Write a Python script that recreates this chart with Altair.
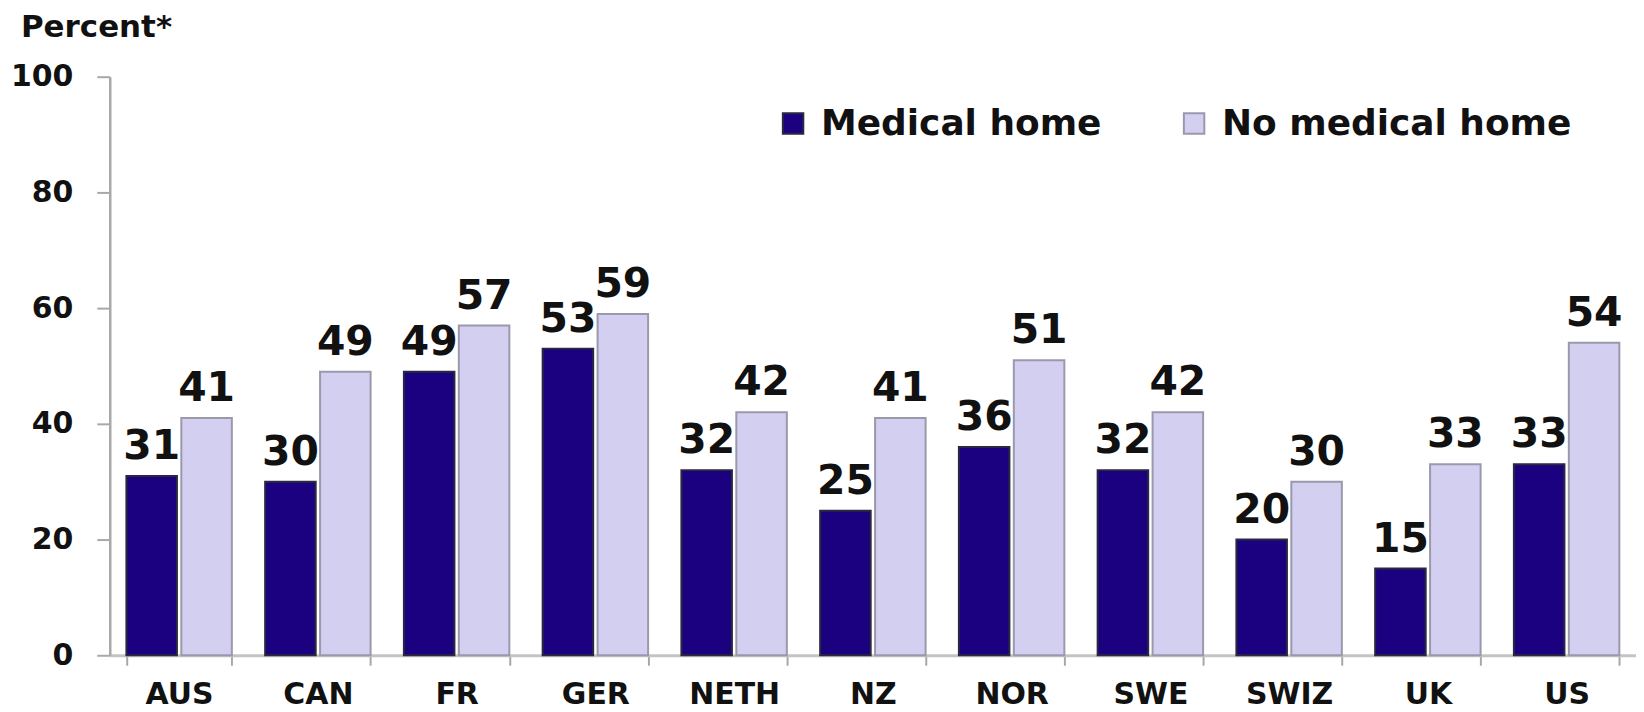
import altair as alt
import pandas as pd

countries = ["AUS", "CAN", "FR", "GER", "NETH", "NZ", "NOR", "SWE", "SWIZ", "UK", "US"]
medical_home = [31, 30, 49, 53, 32, 25, 36, 32, 20, 15, 33]
no_medical_home = [41, 49, 57, 59, 42, 41, 51, 42, 30, 33, 54]
series = ["Medical home", "No medical home"]
fills = ["#1b0080", "#d3cff0"]
strokes = ["#2a2840", "#9c98ac"]
y_ticks = [0, 20, 40, 60, 80, 100]
y_title = "Percent*"

rows = []
for c, a, b in zip(countries, medical_home, no_medical_home):
    rows.append({"country": c, "series": series[0], "value": a})
    rows.append({"country": c, "series": series[1], "value": b})
df = pd.DataFrame(rows)

FONT = "DejaVu Sans"

x_enc = alt.X(
    "country:N",
    sort=countries,
    title=None,
    scale=alt.Scale(paddingInner=0.24, paddingOuter=0.12),
    axis=alt.Axis(
        labelFont=FONT, labelFontSize=30, labelFontWeight="bold", labelColor="#111111",
        labelAngle=0, labelPadding=14,
        tickBand="extent", tickSize=10, tickColor="#a8a8a8", tickWidth=2,
        domainColor="#c4c4c4", domainWidth=3,
    ),
)
xoff = alt.XOffset("series:N", sort=series, scale=alt.Scale(paddingInner=0.08))
y_enc = alt.Y(
    "value:Q",
    title=None,
    scale=alt.Scale(domain=[0, 100]),
    axis=alt.Axis(
        values=y_ticks, grid=False,
        labelFont=FONT, labelFontSize=30, labelFontWeight="bold", labelColor="#111111",
        labelPadding=24, tickSize=13, tickColor="#a8a8a8", tickWidth=2,
        domainColor="#a8a8a8", domainWidth=2.5,
    ),
)

bars = alt.Chart(df).mark_bar(strokeWidth=2).encode(
    x=x_enc,
    xOffset=xoff,
    y=y_enc,
    fill=alt.Fill(
        "series:N", sort=series,
        scale=alt.Scale(domain=series, range=fills),
        legend=alt.Legend(
            title=None, orient="none", legendX=667, legendY=29, direction="horizontal",
            symbolType="square", symbolSize=420, symbolStrokeWidth=2,
            labelFont=FONT, labelFontSize=36, labelFontWeight="bold", labelColor="#111111",
            labelOffset=10, columnPadding=74, labelLimit=500,
        ),
    ),
    stroke=alt.Stroke(
        "series:N", sort=series,
        scale=alt.Scale(domain=series, range=strokes),
        legend=None,
    ),
)

labels = alt.Chart(df).mark_text(
    font=FONT, fontSize=41, fontWeight="bold", color="#111111",
    baseline="alphabetic", dy=-17,
).encode(
    x=alt.X("country:N", sort=countries),
    xOffset=alt.XOffset("series:N", sort=series),
    y=alt.Y("value:Q"),
    text=alt.Text("value:Q"),
)

title_df = pd.DataFrame({"t": [y_title]})
title_mark = alt.Chart(title_df).mark_text(
    font=FONT, fontSize=31, fontWeight="bold", color="#111111",
    align="left", baseline="alphabetic",
).encode(
    x=alt.value(-89),
    y=alt.value(-40),
    text="t:N",
)

chart = (
    alt.layer(bars, labels, title_mark)
    .properties(
        width=1530,
        height=580,
        autosize=alt.AutoSizeParams(type="none"),
        padding={"left": 102, "top": 68, "right": 0, "bottom": 54},
    )
    .configure_view(stroke=None)
)

chart.save("out.html", embed_options={"renderer": "svg", "actions": False})
